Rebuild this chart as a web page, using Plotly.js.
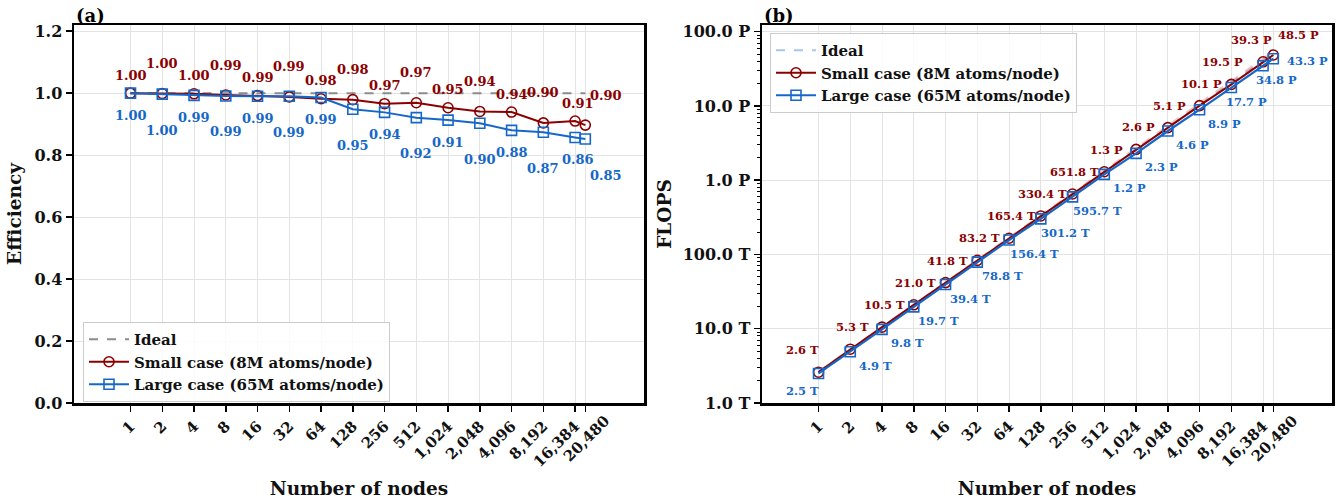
<!DOCTYPE html>
<html><head><meta charset="utf-8">
<script src="https://cdn.plot.ly/plotly-3.0.1.min.js"></script>
<style>html,body{margin:0;padding:0;background:#fff}</style>
</head><body><div id="chart" style="width:1343px;height:500px"></div>
<script>
const nodes = [1,2,4,8,16,32,64,128,256,512,1024,2048,4096,8192,16384,20480];
const nodeLabels = ['1','2','4','8','16','32','64','128','256','512','1,024','2,048','4,096','8,192','16,384','20,480'];
const effIdeal = [1,1,1,1,1,1,1,1,1,1,1,1,1,1,1,1];
const effSmall = [1.000,0.999,0.998,0.994,0.992,0.988,0.982,0.979,0.966,0.969,0.953,0.941,0.939,0.904,0.910,0.897];
const effLarge = [1.000,0.997,0.993,0.991,0.990,0.990,0.986,0.948,0.938,0.921,0.913,0.903,0.880,0.874,0.857,0.852];
const flopsSmallT = [2.6,5.3,10.5,21.0,41.8,83.2,165.4,330.4,651.8,1300,2600,5100,10100,19500,39300,48500];
const flopsLargeT = [2.5,4.9,9.8,19.7,39.4,78.8,156.4,301.2,595.7,1200,2300,4600,8900,17700,34800,43300];
const idealSmallT = [2.6,5.2,10.4,20.8,41.6,83.2,166.4,332.8,665.6,1331.2,2662.4,5324.8,10649.6,21299.2,42598.4,53248];
const idealLargeT = [2.5,5,10,20,40,80,160,320,640,1280,2560,5120,10240,20480,40960,51200];
const flopsTickVals = [1,10,100,1000,10000,100000];
const flopsTickText = ['1.0 T','10.0 T','100.0 T','1.0 P','10.0 P','100.0 P'];
const effTickVals = [0,0.2,0.4,0.6,0.8,1.0,1.2];

const RED = '#8b0000', BLUE = '#1668c8';
const FONT = 'DejaVu Serif';
const bold = (size, color) => ({family: FONT, size: size, color: color || '#111', weight: 'bold'});

function fmtFlops(v){ return v < 1000 ? v.toFixed(1) + ' T' : (v/1000).toFixed(1) + ' P'; }

const traces = [
  {x: nodes, y: effIdeal, xaxis:'x', yaxis:'y', mode:'lines', name:'Ideal',
   line:{color:'#8c8c8c', dash:'dash', width:2}, legend:'legend'},
  {x: nodes, y: effSmall, xaxis:'x', yaxis:'y', mode:'lines+markers', name:'Small case (8M atoms/node)',
   line:{color:RED, width:2}, marker:{symbol:'circle-open', size:10, color:RED, line:{width:1.6}}, legend:'legend'},
  {x: nodes, y: effLarge, xaxis:'x', yaxis:'y', mode:'lines+markers', name:'Large case (65M atoms/node)',
   line:{color:BLUE, width:2}, marker:{symbol:'square-open', size:10, color:BLUE, line:{width:1.6}}, legend:'legend'},
  {x: nodes, y: idealLargeT, xaxis:'x2', yaxis:'y2', mode:'lines', name:'Ideal',
   line:{color:'rgba(110,160,225,0.6)', dash:'dash', width:2}, legend:'legend2'},
  {x: nodes, y: idealSmallT, xaxis:'x2', yaxis:'y2', mode:'lines', name:'Ideal (small)', showlegend:false,
   line:{color:'rgba(200,90,90,0.35)', dash:'dash', width:3}, legend:'legend2'},
  {x: nodes, y: flopsSmallT, xaxis:'x2', yaxis:'y2', mode:'lines+markers', name:'Small case (8M atoms/node)',
   line:{color:RED, width:2}, marker:{symbol:'circle-open', size:10, color:RED, line:{width:1.6}}, legend:'legend2'},
  {x: nodes, y: flopsLargeT, xaxis:'x2', yaxis:'y2', mode:'lines+markers', name:'Large case (65M atoms/node)',
   line:{color:BLUE, width:2.2}, marker:{symbol:'square-open', size:10, color:BLUE, line:{width:1.6}}, legend:'legend2'}
];

// label offsets (pixels)
const effSmallShift = nodes.map((n,i)=>({dx: i===15?21:(i===14?3:0), dy: i%2===0?18:30}));
const effLargeShift = nodes.map((n,i)=>({dx: i===15?21:(i===14?3:0), dy: i%2===0?-22:-36}));
const flSmallShift = nodes.map((n,i)=>({dx: i===0?-16:(i===13?-9:(i===14?-12:(i===15?25:2))), dy: i===15?20:22}));
const flLargeShift = nodes.map((n,i)=>({dx: i===0?-16:(i===13?15:(i===14?13:(i===15?34:25))), dy: i===0?-17.5:(i===15?-2:-14)}));

const ann = [];
nodes.forEach((n,i)=>{
  ann.push({xref:'x', yref:'y', x:Math.log10(n), y:effSmall[i], text:effSmall[i].toFixed(2), showarrow:false,
    xshift:effSmallShift[i].dx, yshift:effSmallShift[i].dy, font:bold(13, RED)});
  ann.push({xref:'x', yref:'y', x:Math.log10(n), y:effLarge[i], text:effLarge[i].toFixed(2), showarrow:false,
    xshift:effLargeShift[i].dx, yshift:effLargeShift[i].dy, font:bold(13, BLUE)});
  ann.push({xref:'x2', yref:'y2', x:Math.log10(n), y:Math.log10(flopsSmallT[i]), text:fmtFlops(flopsSmallT[i]), showarrow:false,
    xshift:flSmallShift[i].dx, yshift:flSmallShift[i].dy, font:bold(11.5, RED)});
  ann.push({xref:'x2', yref:'y2', x:Math.log10(n), y:Math.log10(flopsLargeT[i]), text:fmtFlops(flopsLargeT[i]), showarrow:false,
    xshift:flLargeShift[i].dx, yshift:flLargeShift[i].dy, font:bold(11.5, BLUE)});
});
ann.push({xref:'paper', yref:'paper', x:74/1343, y:1-15/500, xanchor:'left', yanchor:'middle', text:'(a)', showarrow:false, font:bold(18,'#000')});
ann.push({xref:'paper', yref:'paper', x:762/1343, y:1-15/500, xanchor:'left', yanchor:'middle', text:'(b)', showarrow:false, font:bold(18,'#000')});
// last tick label is centred on its tick (drawn as rotated text)
const lastIdx = nodes.length - 1;
['x','x2'].forEach(ax=>{
  ann.push({xref:ax, yref:'paper', x:Math.log10(nodes[lastIdx]), y:1-439/500, xanchor:'center', yanchor:'middle',
    text:nodeLabels[lastIdx], textangle:-45, showarrow:false, xshift:1, font:bold(15,'#111')});
});
const tickTextShown = nodeLabels.map((t,i)=> i===lastIdx ? '' : t);

const xRange = [Math.log10(2)*-1.78, Math.log10(2)*16.17];
const xCommon = {
  type:'log', range:xRange, tickmode:'array', tickvals:nodes, ticktext:tickTextShown, tickangle:-45,
  tickfont:bold(15,'#111'), ticks:'outside', ticklen:6, tickwidth:1.5, tickcolor:'#000',
  showgrid:true, gridcolor:'#e3e3e3', gridwidth:1, zeroline:false,
  showline:true, mirror:true, linecolor:'#000', linewidth:2.5,
  title:{text:'Number of nodes', font:bold(18.5,'#111'), standoff:13}, automargin:false
};

const layout = {
  width:1343, height:500, margin:{l:0,r:0,t:0,b:0}, paper_bgcolor:'#fff', plot_bgcolor:'#fff',
  font:{family:FONT, color:'#111'},
  xaxis: Object.assign({}, xCommon, {domain:[74/1343, 644/1343], anchor:'y'}),
  xaxis2: Object.assign({}, xCommon, {domain:[762/1343, 1332/1343], anchor:'y2'}),
  yaxis: {domain:[97/500, 475/500], anchor:'x', range:[0,1.22], tickmode:'array', tickvals:effTickVals, tickformat:'.1f',
    tickfont:bold(16,'#111'), ticks:'outside', ticklen:6, tickwidth:1.5, tickcolor:'#000',
    showgrid:true, gridcolor:'#e3e3e3', zeroline:false, showline:true, mirror:true, linecolor:'#000', linewidth:2.5,
    title:{text:'Efficiency', font:bold(18.5,'#111'), standoff:8}, automargin:false},
  yaxis2: {domain:[97/500, 475/500], anchor:'x2', type:'log', range:[0,5.09], tickmode:'array', tickvals:flopsTickVals, ticktext:flopsTickText,
    tickfont:bold(16,'#111'), ticks:'outside', ticklen:6, tickwidth:1.5, tickcolor:'#000',
    minor:{ticks:'outside', ticklen:3, tickwidth:1, tickcolor:'#000', dtick:'D1', showgrid:false},
    showgrid:true, gridcolor:'#e3e3e3', zeroline:false, showline:true, mirror:true, linecolor:'#000', linewidth:2.5,
    title:{text:'FLOPS', font:bold(18.5,'#111'), standoff:6}, automargin:false},
  legend: {x:83/1343, y:1-322/500, xanchor:'left', yanchor:'top', bgcolor:'rgba(255,255,255,0.85)', bordercolor:'#cccccc', borderwidth:1,
    font:bold(15,'#111'), tracegroupgap:2, itemwidth:40},
  legend2: {x:770/1343, y:1-33/500, xanchor:'left', yanchor:'top', bgcolor:'rgba(255,255,255,0.85)', bordercolor:'#cccccc', borderwidth:1,
    font:bold(15,'#111'), tracegroupgap:2, itemwidth:40},
  annotations: ann,
  showlegend:true
};

Plotly.newPlot('chart', traces, layout, {displayModeBar:false, staticPlot:true});
</script></body></html>
